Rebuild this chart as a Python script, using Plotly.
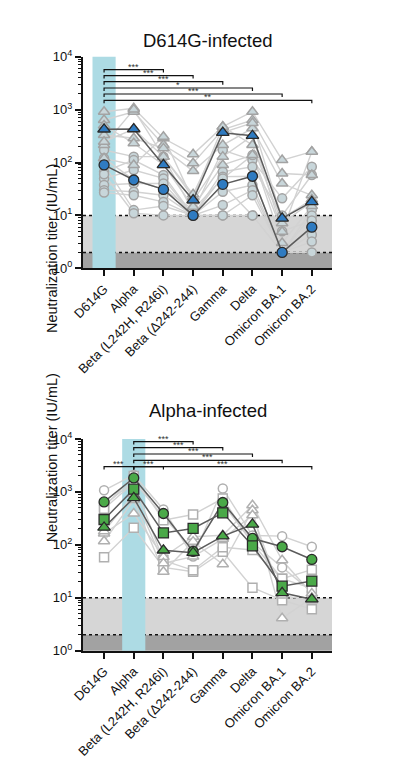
import math
import plotly.graph_objects as go

# ---------------- data ----------------
variants = ["D614G", "Alpha", "Beta (L242H, R246I)", "Beta (\u0394242-244)",
            "Gamma", "Delta", "Omicron BA.1", "Omicron BA.2"]

# D614G-infected: individual subjects (gray), two groups (circles / triangles)
d614g_tri_subjects = [
    [912, 1058, 287, 143, 475, 912, 111, 160],
    [636, 912, 214, 97, 420, 633, 62, 58],
    [331, 287, 185, 69, 214, 443, 40, 24],
    [214, 1000, 129, 22, 475, 214, 7.1, 18],
    [120, 90, 307, 19, 129, 321, 4.9, 160],
    [500, 231, 90, 14.6, 90, 138, 3.0, 15],
    [247, 430, 129, 25, 366, 560, 8.8, 20],
]
d614g_circ_subjects = [
    [172, 129, 129, 11.7, 172, 111, 21, 83],
    [67, 111, 58, 10, 67, 83, 10, 58],
    [50, 72, 50, 10, 54, 55, 2, 12.6],
    [37.6, 40, 40, 10, 28, 37.6, 2, 10],
    [30, 28, 24, 10, 15.7, 30, 2, 6],
    [27, 24, 18, 10, 10, 24, 2, 4.3],
    [90, 12.6, 15, 10, 38, 10, 2, 3.2],
    [60, 11, 10, 10, 10, 10, 2, 2],
    [120, 47, 31, 13, 50, 138, 5, 8],
]
d614g_tri_mean = [425, 430, 90, 19.5, 366, 321, 8.8, 18]
d614g_circ_mean = [90, 46.7, 31, 10, 38.7, 55, 2, 6]

# Alpha-infected
alpha_circ_subjects = [
    [1075, 2100, 466, 60, 1160, 150, 146, 92],
    [560, 1600, 338, 80, 600, 110, 37.5, 13],
]
alpha_sq_subjects = [
    [521, 2000, 292, 374, 750, 107, 23, 34],
    [58, 210, 37.4, 31, 74, 15.5, 9, 6.1],
    [480, 1500, 51, 33, 90, 80, 23, 15],
]
alpha_tri_subjects = [
    [164, 391, 59, 142, 152, 560, 51, 12],
    [117, 700, 31, 115, 43, 452, 4.1, 10],
    [180, 900, 45, 60, 130, 363, 11, 9],
]
alpha_circ_mean = [648, 1837, 391, 75, 631, 132, 92, 53]
alpha_sq_mean = [301, 1125, 168, 204, 402, 96, 16.6, 20.7]
alpha_tri_mean = [213, 771, 79, 71, 146, 243, 12.4, 9.4]

ytick_vals = [1, 10, 100, 1000, 10000]
ytick_text = ["10<sup>0</sup>", "10<sup>1</sup>", "10<sup>2</sup>", "10<sup>3</sup>", "10<sup>4</sup>"]
lod_upper = 10
lod_lower = 2

# significance comparisons: (reference index, compared index, label)
top_comparisons = [(0, 2, "***"), (0, 3, "***"), (0, 4, "***"),
                   (0, 5, "*"), (0, 6, "***"), (0, 7, "**")]
bottom_comparisons = [(1, 0, "***"), (1, 2, "***"), (1, 3, "***"), (1, 4, "***"),
                      (1, 5, "***"), (1, 6, "***"), (1, 7, "***")]

# ---------------- layout constants ----------------
W, H = 397, 764
FONT = "Liberation Sans, Arial, sans-serif"
x_dom = [83 / W, 332 / W]
top_dom = [1 - 268.3 / H, 1 - 56.7 / H]
bot_dom = [1 - 650.7 / H, 1 - 439.0 / H]
x_range = [-0.71, 7.68]
y_log_range = [0, 4]

top_levels = [3.754, 3.641, 3.527, 3.408, 3.295, 3.176]
bottom_levels = [3.479, 3.479, 3.951, 3.838, 3.717, 3.598, 3.479]
tick_drop = 0.055

GRAY_LINE = "#d2d2d2"
DARK_LINE = "#5c5c5c"
BLUE = "#2f7bc1"
GREEN = "#4aa948"
CYAN = "#addbe4"

xs = list(range(len(variants)))
fig = go.Figure()


def add_group_lines(subjects, xa, ya, color, width):
    for s in subjects:
        fig.add_trace(go.Scatter(x=xs, y=s, mode="lines", xaxis=xa, yaxis=ya,
                                 line=dict(color=color, width=width),
                                 showlegend=False, hoverinfo="skip"))


def add_group_markers(subjects, xa, ya, symbol, fill, edge, size, ew=1.5):
    for s in subjects:
        fig.add_trace(go.Scatter(x=xs, y=s, mode="markers", xaxis=xa, yaxis=ya,
                                 marker=dict(symbol=symbol, size=size, color=fill,
                                             line=dict(color=edge, width=ew)),
                                 showlegend=False))


# --- top panel ---
add_group_lines(d614g_tri_subjects + d614g_circ_subjects, "x", "y", GRAY_LINE, 1.4)
add_group_markers(d614g_circ_subjects, "x", "y", "circle", "#c8d6da", "#a3a3a3", 9)
add_group_markers(d614g_tri_subjects, "x", "y", "triangle-up", "#c8d6da", "#a3a3a3", 10)
add_group_lines([d614g_tri_mean, d614g_circ_mean], "x", "y", DARK_LINE, 1.5)
add_group_markers([d614g_circ_mean], "x", "y", "circle", BLUE, "#2a2a2a", 10, 1.3)
add_group_markers([d614g_tri_mean], "x", "y", "triangle-up", BLUE, "#2a2a2a", 11, 1.3)

# --- bottom panel ---
add_group_lines(alpha_circ_subjects + alpha_sq_subjects + alpha_tri_subjects,
                "x2", "y2", GRAY_LINE, 1.4)
add_group_markers(alpha_circ_subjects, "x2", "y2", "circle", "white", "#b0b0b0", 9)
add_group_markers(alpha_sq_subjects, "x2", "y2", "square", "white", "#b0b0b0", 9)
add_group_markers(alpha_tri_subjects, "x2", "y2", "triangle-up", "white", "#b0b0b0", 10)
add_group_lines([alpha_circ_mean, alpha_sq_mean, alpha_tri_mean], "x2", "y2", DARK_LINE, 1.5)
add_group_markers([alpha_circ_mean], "x2", "y2", "circle", GREEN, "#2a2a2a", 10, 1.3)
add_group_markers([alpha_sq_mean], "x2", "y2", "square", GREEN, "#2a2a2a", 10, 1.3)
add_group_markers([alpha_tri_mean], "x2", "y2", "triangle-up", GREEN, "#2a2a2a", 11, 1.3)

annotations = []


def add_brackets(comps, levels, xa, ya):
    for (a, b, lab), lev in zip(comps, levels):
        top = 10 ** lev
        low = 10 ** (lev - tick_drop)
        fig.add_trace(go.Scatter(x=[a, a, b, b], y=[low, top, top, low], mode="lines",
                                 xaxis=xa, yaxis=ya, line=dict(color="#111", width=1.2),
                                 showlegend=False, hoverinfo="skip"))
        annotations.append(dict(x=(a + b) / 2, y=lev, xref=xa, yref=ya, text=lab,
                                showarrow=False, yanchor="bottom", yshift=-4,
                                font=dict(size=9, color="#333", family=FONT)))


add_brackets(top_comparisons, top_levels, "x", "y")
add_brackets(bottom_comparisons, bottom_levels, "x2", "y2")


def dom_frac(v):
    return (math.log10(v) - y_log_range[0]) / (y_log_range[1] - y_log_range[0])


# background shapes: LOD bands, dotted lines, infecting-variant bar
shapes = []
for xr, yr, hl in [("x", "y", 0), ("x2", "y2", 1)]:
    shapes.append(dict(type="rect", xref=xr + " domain", yref=yr + " domain", x0=0, x1=1,
                       y0=dom_frac(lod_lower), y1=dom_frac(lod_upper),
                       fillcolor="#d6d6d6", line=dict(width=0), layer="below"))
    shapes.append(dict(type="rect", xref=xr + " domain", yref=yr + " domain", x0=0, x1=1,
                       y0=0, y1=dom_frac(lod_lower),
                       fillcolor="#a2a2a2", line=dict(width=0), layer="below"))
    for v in (lod_upper, lod_lower):
        shapes.append(dict(type="line", xref=xr + " domain", yref=yr + " domain", x0=0, x1=1,
                           y0=dom_frac(v), y1=dom_frac(v),
                           line=dict(color="#111", width=1.5, dash="dot"), layer="below"))
    shapes.append(dict(type="rect", xref=xr, yref=yr + " domain", x0=hl - 0.39, x1=hl + 0.39,
                       y0=0, y1=1, fillcolor=CYAN, line=dict(width=0), layer="below"))

# titles
annotations.append(dict(x=(x_dom[0] + x_dom[1]) / 2, y=1 - 28 / H, xref="paper", yref="paper",
                        text="D614G-infected", showarrow=False,
                        font=dict(size=18.5, color="#111", family=FONT)))
annotations.append(dict(x=(x_dom[0] + x_dom[1]) / 2, y=1 - 410 / H, xref="paper", yref="paper",
                        text="Alpha-infected", showarrow=False,
                        font=dict(size=18.5, color="#111", family=FONT)))
for dom in (top_dom, bot_dom):
    annotations.append(dict(x=42 / W, y=(dom[0] + dom[1]) / 2, xref="paper", yref="paper",
                            text="Neutralization titer (IU/mL)", textangle=-90, showarrow=False,
                            font=dict(size=14.5, color="#111", family=FONT)))

minor_vals = [m * 10 ** k for k in range(4) for m in range(2, 10)]

xaxis_common = dict(domain=x_dom, range=x_range, tickmode="array", tickvals=xs,
                    ticktext=variants, tickangle=-45, showline=True, linecolor="#111",
                    linewidth=2, ticks="outside", ticklen=6, tickwidth=1.5, tickcolor="#111",
                    showgrid=False, zeroline=False, automargin=False,
                    tickfont=dict(size=13, color="#111", family=FONT))
yaxis_common = dict(type="log", range=y_log_range, tickmode="array", tickvals=ytick_vals,
                    ticktext=ytick_text, showline=True, linecolor="#111", linewidth=2,
                    ticks="outside", ticklen=6, tickwidth=1.5, tickcolor="#111",
                    showgrid=False, zeroline=False, automargin=False,
                    minor=dict(tickmode="array", tickvals=minor_vals, ticks="outside",
                               ticklen=3, tickwidth=1, tickcolor="#111", showgrid=False),
                    tickfont=dict(size=13, color="#111", family=FONT))

fig.update_layout(
    width=W, height=H, margin=dict(l=0, r=0, t=0, b=0, autoexpand=False),
    paper_bgcolor="white", plot_bgcolor="white",
    xaxis=dict(xaxis_common, anchor="y"),
    yaxis=dict(yaxis_common, domain=top_dom, anchor="x"),
    xaxis2=dict(xaxis_common, anchor="y2"),
    yaxis2=dict(yaxis_common, domain=bot_dom, anchor="x2"),
    shapes=shapes, annotations=annotations, showlegend=False,
    font=dict(family=FONT),
)

fig.write_html("out.html", config={"displayModeBar": False},
               post_script="document.body.style.margin='0';")
